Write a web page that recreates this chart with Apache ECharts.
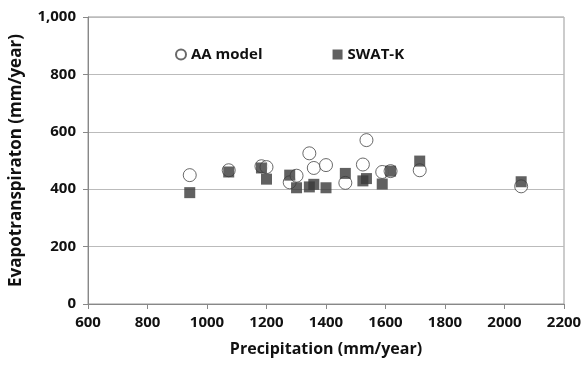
<!DOCTYPE html>
<html><head><meta charset="utf-8">
<script src="https://cdn.jsdelivr.net/npm/echarts@6/dist/echarts.min.js"></script>
<style>html,body{margin:0;padding:0;background:#fff}#c{width:588px;height:367px}</style>
</head><body><div id="c"></div>
<script>
var precipitation = [942,1073,1183,1200,1278,1301,1344,1359,1400,1465,1524,1536,1589,1617,1715,2056];
var aaModel = [449,466,480,477,424,447,525,474,484,422,486,571,460,463,466,410];
var swatK = [388,460,474,435,449,405,408,417,405,455,429,437,418,463,498,426];
var xTicks = [600,800,1000,1200,1400,1600,1800,2000,2200];
var yTicks = [0,200,400,600,800,1000];

var font = 'Open Sans';
var chart = echarts.init(document.getElementById('c'));
chart.setOption({
  animation: false,
  grid: {left: 83, right: 24, top: 17, bottom: 63, show: true, borderColor: '#999', borderWidth: 1},
  legend: {
    left: 170, top: 42, itemGap: 70, itemWidth: 10, itemHeight: 10,
    textStyle: {fontFamily: font, fontWeight: 'bold', fontSize: 15, color: '#111'},
    data: [{name: 'AA model', icon: 'circle'}, {name: 'SWAT-K', icon: 'rect'}]
  },
  xAxis: {
    type: 'value', min: xTicks[0], max: xTicks[xTicks.length-1], interval: 200,
    name: 'Precipitation (mm/year)', nameLocation: 'middle', nameGap: 37,
    nameTextStyle: {fontFamily: font, fontWeight: 'bold', fontSize: 16, color: '#111'},
    axisLine: {lineStyle: {color: '#888'}},
    axisTick: {show: true, length: 5, lineStyle: {color: '#888'}},
    axisLabel: {fontFamily: font, fontWeight: 'bold', fontSize: 15, color: '#111', margin: 11,
      formatter: function(v){ return String(v); }},
    splitLine: {show: false}
  },
  yAxis: {
    type: 'value', min: yTicks[0], max: yTicks[yTicks.length-1], interval: 200,
    name: 'Evapotranspiraton (mm/year)', nameLocation: 'middle', nameGap: 63,
    nameTextStyle: {fontFamily: font, fontWeight: 'bold', fontSize: 17, color: '#111'},
    axisLine: {show: true, lineStyle: {color: '#888'}},
    axisTick: {show: true, length: 5, lineStyle: {color: '#888'}},
    axisLabel: {fontFamily: font, fontWeight: 'bold', fontSize: 15, color: '#111', margin: 12,
      formatter: function(v){ return v.toLocaleString('en-US'); }},
    splitLine: {show: true, lineStyle: {color: '#bbb', width: 1}}
  },
  series: [
    {name: 'AA model', type: 'scatter', symbol: 'circle', symbolSize: 13,
     itemStyle: {color: '#fff', borderColor: '#444', borderWidth: 1},
     data: precipitation.map(function(p, i){ return [p, aaModel[i]]; })},
    {name: 'SWAT-K', type: 'scatter', symbol: 'rect', symbolSize: 11,
     itemStyle: {color: '#3a3a3a'},
     data: precipitation.map(function(p, i){ return [p, swatK[i]]; })}
  ]
});
</script></body></html>
